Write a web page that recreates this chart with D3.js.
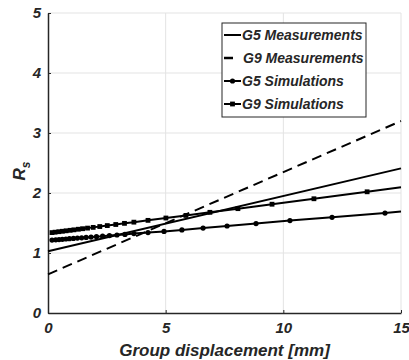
<!DOCTYPE html>
<html lang="en">
<head>
<meta charset="UTF-8">
<title>Rs vs group displacement</title>
<script src="https://d3js.org/d3.v7.min.js"></script>
<style>
    body { margin: 0; background: #fff; }
    text { font-family: "Liberation Sans", Arial, sans-serif; font-weight: bold; font-style: italic; fill: #262626; }
</style>
</head>
<body>
<div id="chart"></div>
<script>
    // measurement fits (straight lines)
    const g5MeasX = [0, 15];
    const g5MeasY = [1.03, 2.41];
    const g9MeasX = [0, 15];
    const g9MeasY = [0.645, 3.2];

    // simulation points (last point sits on the axis edge, no marker)
    const g5SimX = [0.17, 0.33, 0.47, 0.61, 0.76, 0.91, 1.08, 1.25, 1.43, 1.62, 1.83, 2.06, 2.32, 2.61, 2.93, 3.27, 3.65, 4.25, 4.93, 5.69, 6.59, 7.61, 8.84, 10.28, 12.07, 14.32, 15];
    const g5SimY = [1.215, 1.22, 1.224, 1.228, 1.233, 1.238, 1.243, 1.248, 1.253, 1.259, 1.265, 1.272, 1.28, 1.29, 1.3, 1.31, 1.323, 1.34, 1.36, 1.385, 1.415, 1.45, 1.49, 1.54, 1.595, 1.665, 1.69];
    const g9SimX = [0.17, 0.3, 0.46, 0.61, 0.77, 0.94, 1.1, 1.29, 1.47, 1.68, 1.92, 2.2, 2.52, 2.88, 3.25, 3.65, 4.25, 5.01, 5.86, 6.88, 8.07, 9.52, 11.3, 13.56, 15];
    const g9SimY = [1.34, 1.347, 1.355, 1.362, 1.37, 1.378, 1.386, 1.396, 1.405, 1.415, 1.427, 1.441, 1.457, 1.475, 1.494, 1.514, 1.544, 1.583, 1.626, 1.678, 1.739, 1.813, 1.904, 2.02, 2.095];

    const xTicks = [0, 5, 10, 15];
    const yTicks = [0, 1, 2, 3, 4, 5];
    const legendLabels = ['G5 Measurements', 'G9 Measurements', 'G5 Simulations', 'G9 Simulations'];

    const width = 409, height = 360;
    const margin = { top: 13, right: 8, bottom: 47, left: 48 };

    const x = d3.scaleLinear().domain([0, 15]).range([margin.left, width - margin.right]);
    const y = d3.scaleLinear().domain([0, 5]).range([height - margin.bottom, margin.top]);

    const svg = d3.select('#chart').append('svg')
        .attr('width', width)
        .attr('height', height);

    // grid
    svg.append('g')
        .selectAll('line')
        .data(xTicks.slice(1))
        .join('line')
        .attr('x1', d => x(d)).attr('x2', d => x(d))
        .attr('y1', y(0)).attr('y2', y(5))
        .attr('stroke', '#e3e3e3').attr('stroke-width', 1);
    svg.append('g')
        .selectAll('line')
        .data(yTicks.slice(1))
        .join('line')
        .attr('x1', x(0)).attr('x2', x(15))
        .attr('y1', d => y(d)).attr('y2', d => y(d))
        .attr('stroke', '#e3e3e3').attr('stroke-width', 1);

    // axes
    const xAxis = svg.append('g')
        .attr('transform', `translate(0, ${y(0)})`)
        .call(d3.axisBottom(x).tickValues(xTicks).tickFormat(d3.format('d'))
            .tickSizeInner(-3).tickSizeOuter(0).tickPadding(9));
    const yAxis = svg.append('g')
        .attr('transform', `translate(${x(0)}, 0)`)
        .call(d3.axisLeft(y).tickValues(yTicks).tickFormat(d3.format('d'))
            .tickSizeInner(-3).tickSizeOuter(0).tickPadding(7));
    [xAxis, yAxis].forEach(a => {
        a.select('.domain').attr('stroke', '#262626').attr('stroke-width', 1.5);
        a.selectAll('.tick line').attr('stroke', '#262626').attr('stroke-width', 1);
        a.selectAll('.tick text').attr('font-size', 15).attr('fill', '#262626')
            .style('font-family', '"Liberation Sans", Arial, sans-serif');
    });

    // axis titles
    svg.append('text')
        .attr('x', (x(0) + x(15)) / 2)
        .attr('y', 356)
        .attr('text-anchor', 'middle')
        .attr('font-size', 17)
        .text('Group displacement [mm]');

    const yTitle = svg.append('text')
        .attr('transform', `translate(25, ${y(2.5) + 8}) rotate(-90)`)
        .attr('text-anchor', 'middle')
        .attr('font-size', 17);
    yTitle.append('tspan').text('R');
    yTitle.append('tspan').attr('font-size', 12).attr('dy', 5).text('s');

    const line = d3.line().x(d => x(d[0])).y(d => y(d[1]));
    const zip = (xs, ys) => xs.map((v, i) => [v, ys[i]]);

    const series = [
        { pts: zip(g5MeasX, g5MeasY), dash: null, marker: null },
        { pts: zip(g9MeasX, g9MeasY), dash: '10,6', marker: null },
        { pts: zip(g5SimX, g5SimY), dash: null, marker: 'circle' },
        { pts: zip(g9SimX, g9SimY), dash: null, marker: 'square' }
    ];

    const plot = svg.append('g');
    series.forEach(s => {
        plot.append('path')
            .attr('d', line(s.pts))
            .attr('fill', 'none')
            .attr('stroke', '#000')
            .attr('stroke-width', 2)
            .attr('stroke-dasharray', s.dash);
        if (s.marker === 'circle') {
            plot.append('g').selectAll('circle')
                .data(s.pts.slice(0, -1))
                .join('circle')
                .attr('cx', d => x(d[0])).attr('cy', d => y(d[1]))
                .attr('r', 2.6).attr('fill', '#000');
        } else if (s.marker === 'square') {
            plot.append('g').selectAll('rect')
                .data(s.pts.slice(0, -1))
                .join('rect')
                .attr('x', d => x(d[0]) - 2.4).attr('y', d => y(d[1]) - 2.4)
                .attr('width', 4.8).attr('height', 4.8).attr('fill', '#000');
        }
    });

    // legend
    const lg = svg.append('g').attr('transform', 'translate(222, 23)');
    lg.append('rect')
        .attr('width', 144).attr('height', 94)
        .attr('fill', '#fff').attr('stroke', '#262626').attr('stroke-width', 1);
    legendLabels.forEach((lab, i) => {
        const ly = 12 + i * 23;
        const s = series[i];
        if (s.dash) {
            lg.append('line').attr('x1', 2).attr('x2', 11).attr('y1', ly).attr('y2', ly)
                .attr('stroke', '#000').attr('stroke-width', 2.5);
        } else {
            lg.append('line').attr('x1', 2).attr('x2', 19).attr('y1', ly).attr('y2', ly)
                .attr('stroke', '#000').attr('stroke-width', 2);
        }
        if (s.marker === 'circle') {
            lg.append('circle').attr('cx', 10.5).attr('cy', ly).attr('r', 2.6).attr('fill', '#000');
        } else if (s.marker === 'square') {
            lg.append('rect').attr('x', 8.1).attr('y', ly - 2.4).attr('width', 4.8).attr('height', 4.8).attr('fill', '#000');
        }
        lg.append('text')
            .attr('x', s.dash ? 21 : 20)
            .attr('y', ly + 5)
            .attr('font-size', 14)
            .text(lab);
    });
</script>
</body>
</html>
